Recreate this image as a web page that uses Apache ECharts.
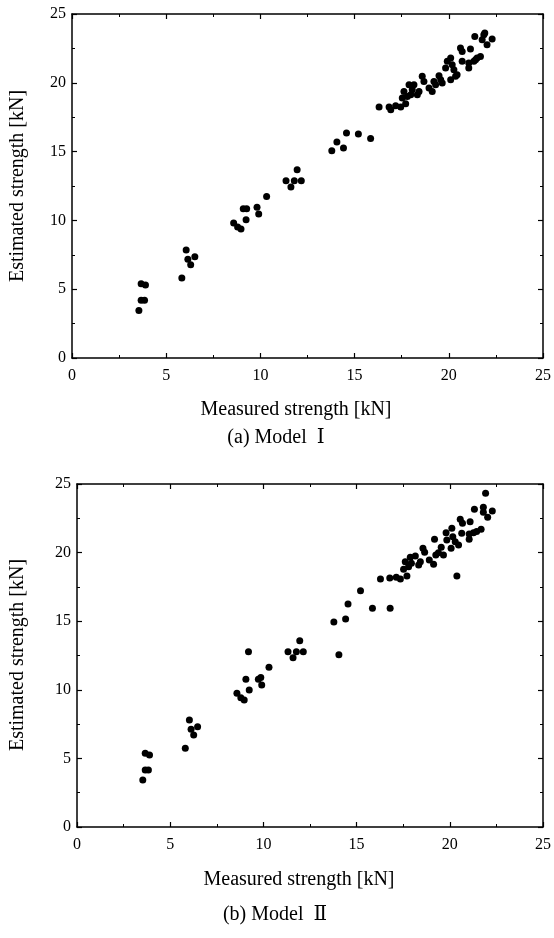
<!DOCTYPE html>
<html><head><meta charset="utf-8">
<script src="https://cdn.jsdelivr.net/npm/echarts@6/dist/echarts.min.js"></script>
<style>html,body{margin:0;padding:0;background:#fff}#c{width:554px;height:938px}</style>
</head><body><div id="c"></div>
<script>
// Tick labels
const tickValues = [0, 5, 10, 15, 20, 25];
const xAxisTitle = 'Measured strength [kN]';
const yAxisTitle = 'Estimated strength [kN]';
const captions = ['(a) Model  \u2160', '(b) Model  \u2161'];

// Model I
const modelI_measured = [3.55,3.67,3.85,3.67,3.90,5.83,6.06,6.15,6.30,6.52,8.58,8.79,8.97,9.24,9.09,9.27,9.82,9.91,10.33,11.36,11.62,11.80,11.95,12.17,13.79,14.06,14.41,14.57,15.20,15.85,16.30,16.83,16.92,17.18,17.45,17.71,17.53,17.62,17.80,17.89,17.98,18.15,18.06,18.33,18.42,18.59,18.68,18.95,19.12,19.21,19.30,19.57,19.48,19.65,19.83,19.92,20.10,20.10,20.18,20.27,20.36,20.44,20.62,20.71,20.71,21.06,21.06,21.15,21.33,21.42,21.50,21.68,21.38,21.77,21.86,22.03,22.30,21.91];
const modelI_estimated = [3.46,4.19,4.19,5.40,5.30,5.81,7.85,7.17,6.78,7.36,9.81,9.52,9.37,10.05,10.85,10.85,10.95,10.47,11.74,12.89,12.43,12.89,13.69,12.89,15.07,15.70,15.26,16.35,16.28,15.95,18.24,18.24,18.04,18.34,18.24,18.48,18.90,19.37,19.01,19.86,19.13,19.86,19.50,19.13,19.37,20.47,20.10,19.62,19.37,20.10,19.86,20.23,20.52,19.99,21.08,21.56,21.80,20.23,21.32,20.95,20.47,20.59,22.53,22.28,21.56,21.44,21.08,22.46,21.56,21.68,21.80,21.92,23.37,23.13,23.50,22.77,23.18,23.62];

// Model II
const modelII_measured = [3.53,3.66,3.83,3.66,3.89,5.81,6.03,6.12,6.26,6.47,8.58,8.79,8.97,9.24,9.06,9.20,9.73,9.86,9.91,10.30,11.32,11.59,11.77,11.95,12.14,13.78,14.05,14.41,14.54,15.21,15.85,16.80,16.28,16.78,17.13,17.35,17.70,17.52,17.61,17.79,17.88,18.15,17.94,18.33,18.42,18.56,18.65,19.18,18.90,19.13,19.25,19.39,19.54,19.66,19.84,19.80,20.11,20.07,20.16,20.29,20.47,20.38,20.56,20.68,20.64,21.04,21.09,21.04,21.32,21.27,21.44,21.68,21.92,21.80,21.80,22.03,22.28];
const modelII_estimated = [3.43,4.15,4.15,5.37,5.25,5.74,7.80,7.12,6.71,7.31,9.75,9.42,9.26,9.99,10.77,12.78,10.77,10.89,10.35,11.64,12.78,12.34,12.78,13.58,12.78,14.94,12.56,15.16,16.25,17.22,15.95,15.95,18.08,18.15,18.20,18.08,18.29,18.78,19.34,18.97,19.66,19.75,19.22,19.10,19.34,20.31,20.02,20.97,19.46,19.15,19.83,19.99,20.39,19.83,20.92,21.45,21.77,20.31,21.16,20.79,20.55,18.29,22.43,22.14,21.41,21.36,22.25,20.97,23.16,21.45,21.53,21.70,24.32,23.30,22.94,22.57,23.03];

const FONT = '"Liberation Serif","DejaVu Serif",serif';
const zip = (a, b) => a.map((v, i) => [v, b[i]]);

function axisBase(gridIndex, position, showLabel) {
  return {
    type: 'value', gridIndex: gridIndex, position: position,
    min: tickValues[0], max: tickValues[tickValues.length - 1], interval: 5,
    axisLine: {show: true, onZero: false, lineStyle: {color: '#000', width: 1.5}},
    axisTick: {show: true, inside: true, length: 5, lineStyle: {color: '#000', width: 1.2}},
    minorTick: {show: true, splitNumber: 2, length: 3, lineStyle: {color: '#000', width: 1}},
    axisLabel: {show: showLabel, color: '#000', fontFamily: FONT, fontSize: 16, margin: position === 'bottom' ? 10 : 6},
    splitLine: {show: false}
  };
}

const grids = [
  {left: 72, top: 14, width: 472, height: 344},
  {left: 77, top: 484, width: 467, height: 343}
];

const option = {
  animation: false,
  backgroundColor: '#fff',
  grid: grids,
  xAxis: [axisBase(0, 'bottom', true), axisBase(0, 'top', false), axisBase(1, 'bottom', true), axisBase(1, 'top', false)],
  yAxis: [axisBase(0, 'left', true), axisBase(0, 'right', false), axisBase(1, 'left', true), axisBase(1, 'right', false)],
  series: [
    {type: 'scatter', xAxisIndex: 0, yAxisIndex: 0, symbolSize: 7, itemStyle: {color: '#000', opacity: 1}, data: zip(modelI_measured, modelI_estimated)},
    {type: 'scatter', xAxisIndex: 2, yAxisIndex: 2, symbolSize: 7, itemStyle: {color: '#000', opacity: 1}, data: zip(modelII_measured, modelII_estimated)}
  ],
  graphic: [
    {type: 'text', x: 296, y: 410, style: {text: xAxisTitle, font: '20px ' + FONT, fill: '#000', textAlign: 'center', textVerticalAlign: 'middle'}},
    {type: 'text', x: 276, y: 438, style: {text: captions[0], font: '20px ' + FONT, fill: '#000', textAlign: 'center', textVerticalAlign: 'middle'}},
    {type: 'text', x: 18, y: 186, rotation: Math.PI / 2, style: {text: yAxisTitle, font: '20px ' + FONT, fill: '#000', textAlign: 'center', textVerticalAlign: 'middle'}},
    {type: 'text', x: 299, y: 880, style: {text: xAxisTitle, font: '20px ' + FONT, fill: '#000', textAlign: 'center', textVerticalAlign: 'middle'}},
    {type: 'text', x: 275, y: 915, style: {text: captions[1], font: '20px ' + FONT, fill: '#000', textAlign: 'center', textVerticalAlign: 'middle'}},
    {type: 'text', x: 18, y: 655, rotation: Math.PI / 2, style: {text: yAxisTitle, font: '20px ' + FONT, fill: '#000', textAlign: 'center', textVerticalAlign: 'middle'}}
  ]
};

const chart = echarts.init(document.getElementById('c'), null, {renderer: 'canvas'});
chart.setOption(option);
</script>
</body></html>
